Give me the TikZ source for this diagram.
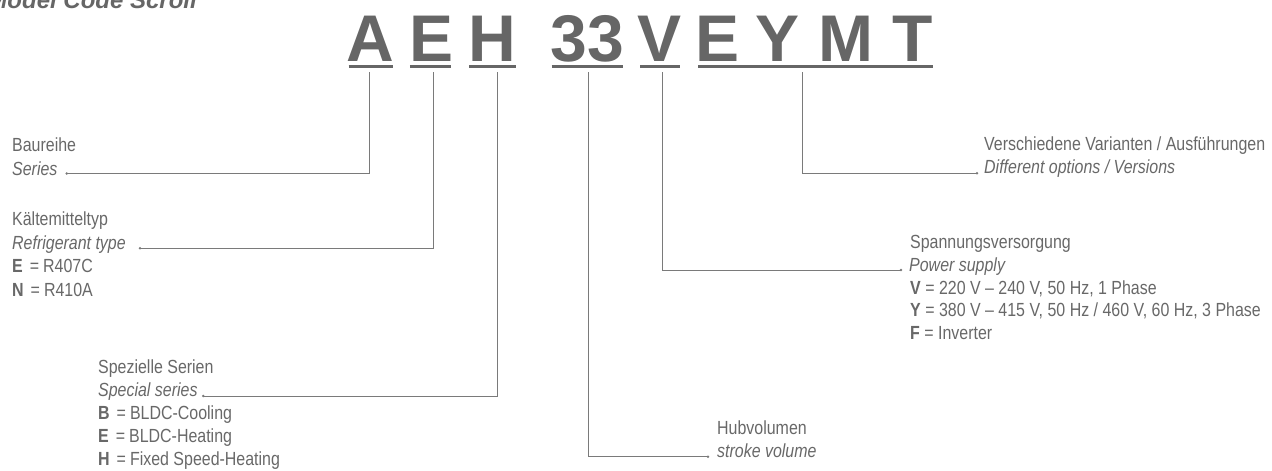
\documentclass[tikz,border=0pt]{standalone}
\usepackage{fontspec}
\setmainfont{Liberation Sans}[FakeStretch=0.84]
\newfontfamily\codefont{Liberation Sans}
\definecolor{codegray}{HTML}{666666}
\definecolor{txtgray}{HTML}{686868}
\definecolor{linegray}{HTML}{7A7A7A}
\begin{document}
\begin{tikzpicture}[x=1pt,y=-1pt,
  codeletter/.style={anchor=base, inner sep=0pt, text=codegray, font=\codefont\bfseries\fontsize{66}{66}\selectfont},
  uline/.style={draw=codegray, line width=3pt},
  lbl/.style={anchor=base west, inner sep=0pt, text=txtgray, font=\fontsize{19}{22}\selectfont},
  conn/.style={draw=linegray, line width=0.9pt},
  enddot/.style={fill=linegray},
]
\useasboundingbox (0,0) rectangle (1272,471);

% title
\node[anchor=base east, inner sep=0pt, text=codegray, font=\codefont\bfseries\itshape\fontsize{24}{24}\selectfont] (title) at (197,8.3) {Model Code Scroll};

% code letters
\node[codeletter] (lA)  at (370.5,61) {A};
\node[codeletter] (lE)  at (432,61) {E};
\node[codeletter] (lH)  at (492.7,61) {H};
\node[codeletter] (l33) at (587.3,61) {33};
\node[codeletter] (lV)  at (660,61) {V};
\node[codeletter] (lE2) at (718,61) {E};
\node[codeletter] (lY)  at (778,61) {Y};
\node[codeletter] (lM)  at (846,61) {M};
\node[codeletter] (lT)  at (912.5,61) {T};

% underlines
\draw[uline] (348.5,66.5) -- (392.7,66.5);
\draw[uline] (409.8,66.5) -- (451.4,66.5);
\draw[uline] (469,66.5) -- (516,66.5);
\draw[uline] (551.7,66.5) -- (622.7,66.5);
\draw[uline] (640,66.5) -- (680,66.5);
\draw[uline] (698,66.5) -- (932.7,66.5);

% connector start points
\coordinate (cA)  at (369.8,72);
\coordinate (cE)  at (433.4,72);
\coordinate (cH)  at (497.5,72);
\coordinate (c33) at (588.5,72);
\coordinate (cV)  at (662,72);
\coordinate (cR)  at (802,72);

% connector end points
\coordinate (dA)  at (66.7,173.5);
\coordinate (dE)  at (140,248.3);
\coordinate (dH)  at (203.3,396);
\coordinate (d33) at (708,456.7);
\coordinate (dV)  at (901,270);
\coordinate (dR)  at (977,173.3);

% labels: Baureihe
\node[lbl] (baureihe) at (12,151.7) {Baureihe};
\node[lbl] (series) at (12,175) {\itshape Series};
% Kaeltemitteltyp
\node[lbl] (kaelte) at (12,225.5) {Kältemitteltyp};
\node[lbl] (refrig) at (12,249) {\itshape Refrigerant type};
\node[lbl] (refE) at (12,272.5) {\textbf{E}\hspace{7pt}=\hspace{4pt}R407C};
\node[lbl] (refN) at (12,296) {\textbf{N}\hspace{7pt}=\hspace{4pt}R410A};
% Spezielle Serien
\node[lbl] (spez) at (98,373) {Spezielle Serien};
\node[lbl] (special) at (98,396.5) {\itshape Special series};
\node[lbl] (spB) at (98,419.5) {\textbf{B}\hspace{7pt}=\hspace{4pt}BLDC-Cooling};
\node[lbl] (spE) at (98,442.3) {\textbf{E}\hspace{7pt}=\hspace{4pt}BLDC-Heating};
\node[lbl] (spH) at (98,465) {\textbf{H}\hspace{7pt}=\hspace{4pt}Fixed Speed-Heating};
% Hubvolumen
\node[lbl] (hub) at (717,434.5) {Hubvolumen};
\node[lbl] (stroke) at (717,457.5) {\itshape stroke volume};
% Spannungsversorgung
\node[lbl] (spann) at (910,248.4) {Spannungsversorgung};
\node[lbl] (power) at (909,271.2) {\itshape Power supply};
\node[lbl] (psV) at (910,294) {\textbf{V} = 220 V – 240 V, 50 Hz, 1 Phase};
\node[lbl] (psY) at (910,316.8) {\textbf{Y} = 380 V – 415 V, 50 Hz / 460 V, 60 Hz, 3 Phase};
\node[lbl] (psF) at (910,339.6) {\textbf{F} = Inverter};
% Varianten
\node[lbl] (versch) at (984,150.5) {Verschiedene Varianten / Ausführungen};
\node[lbl] (diff) at (984,173.8) {\itshape Different options / Versions};

% connectors
\draw[conn] (cA) |- (dA);
\draw[conn] (cE) |- (dE);
\draw[conn] (cH) |- (dH);
\draw[conn] (c33) |- (d33);
\draw[conn] (cV) |- (dV);
\draw[conn] (cR) |- (dR);
\foreach \d in {dA,dE,dH,d33,dV,dR} \fill[enddot] (\d) circle (1.4pt);
\end{tikzpicture}
\end{document}
